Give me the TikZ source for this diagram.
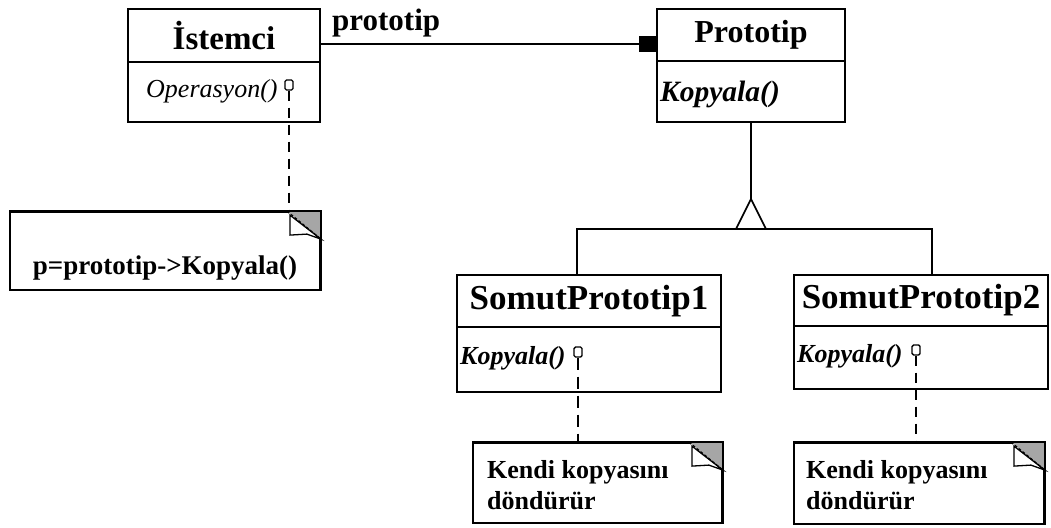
\documentclass[tikz,border=0pt]{standalone}
\usepackage{fontspec}
\setmainfont{Liberation Serif}
\usetikzlibrary{arrows.meta}
\newcommand\clsfont{\fontsize{33}{38}\selectfont\bfseries}
\newcommand\opfont{\fontsize{26}{30}\selectfont}
\newcommand\notefont{\fontsize{26}{31}\selectfont\bfseries}
\begin{document}
\begin{tikzpicture}[x=1pt,y=-1pt,
  part/.style={draw,line width=2pt,inner sep=0pt,minimum width=#1},
  notebox/.style={draw,line width=1.8pt,inner sep=0pt,minimum width=#1},
  optext/.style={anchor=west,inner sep=0pt},
  notetext/.style={anchor=west,align=left,inner sep=0pt,font=\notefont},
  lolli/.style={draw,line width=1.4pt,rounded corners=1.5pt,minimum width=8pt,minimum height=10pt,inner sep=0pt},
  link/.style={line width=2pt},
  notelink/.style={line width=2pt,dash pattern=on 10pt off 7pt},
  thinlink/.style={line width=1.2pt,dash pattern=on 12pt off 7pt}]
\useasboundingbox (0,0) rectangle (1051,527);

% client class
\node[part=192pt,minimum height=53pt] (ist) at (224,35.5) {\clsfont İstemci};
\node[part=192pt,minimum height=60pt] (istops) at (224,92) {};
\node[optext] (istop) at (146,91) {\opfont\itshape Operasyon()};

% prototype class
\node[part=188pt,minimum height=52pt] (pro) at (751,35) {\fontsize{32}{38}\selectfont\bfseries Prototip};
\node[part=188pt,minimum height=61pt] (proops) at (751,91.5) {};
\node[optext] (proop) at (660,94) {\fontsize{29.5}{34}\selectfont\bfseries\itshape Kopyala()};

% concrete prototypes
\node[part=264pt,minimum height=52pt] (s1) at (589,301) {\fontsize{35}{40}\selectfont\bfseries SomutPrototip1};
\node[part=264pt,minimum height=65pt] (s1ops) at (589,359.5) {};
\node[optext] (s1op) at (460,358) {\fontsize{26}{30}\selectfont\bfseries\itshape Kopyala()};

\node[part=254pt,minimum height=51pt] (s2) at (921,300.5) {\fontsize{35}{40}\selectfont\bfseries SomutPrototip2};
\node[part=254pt,minimum height=63pt] (s2ops) at (921,357.5) {};
\node[optext] (s2op) at (797,356) {\fontsize{26}{30}\selectfont\bfseries\itshape Kopyala()};

% notes
\node[notebox=310pt,minimum height=78pt] (note0) at (165,251) {};
\node[inner sep=0pt] (note0t) at (165,268) {\fontsize{27}{32}\selectfont\bfseries p=prototip->Kopyala()};
\node[notebox=249pt,minimum height=80pt] (note1) at (597.5,483) {};
\node[notetext] (note1t) at (487,485) {Kendi kopyasını\\döndürür};
\node[notebox=250pt,minimum height=81pt] (note2) at (919,483.5) {};
\node[notetext] (note2t) at (806,485) {Kendi kopyasını\\döndürür};

% folded corners of the notes
\foreach \n in {note0,note1,note2}{
  \fill[gray!70] (\n.north east) ++(-34,0) -- (\n.north east) -- ++(0,28) -- cycle;
  \draw[line width=1.3pt,fill=white] (\n.north east) ++(-31,4) -- ++(0,20) -- ++(17,-1) -- ++(14,5) -- cycle;
  \draw[line width=1.3pt,densely dashed] (\n.north east) ++(-34,0) -- ++(34,28);
  \draw[line width=1.8pt] (\n.north west) -- (\n.north east) -- (\n.south east);
}

% lollipops on the operations
\node[lolli] (l0) at (289,85) {};
\node[lolli] (l1) at (578,352) {};
\node[lolli] (l2) at (916,350) {};

\draw[notelink] (l0.south) -- (note0.north -| l0);
\draw[thinlink] (l1.south) -- (note1.north -| l1);
\draw[notelink] (l2.south) -- (note2.north -| l2);

% association
\coordinate (row) at (0,44);
\draw[link,-{Square[length=17pt,width=16pt]}] (ist.east |- row) -- (pro.west |- row);
\node[anchor=south west,inner sep=0pt] (role) at (332,37) {\fontsize{31}{36}\selectfont\bfseries prototip};

% generalization
\coordinate (apex) at (proops.south |- 0,199);
\coordinate (j1) at (577,229);
\coordinate (j2) at (932,229);
\draw[link] (proops.south) -- (apex);
\draw[link] (s1.north -| j1) -- (j1) -- (j2) -- (s2.north -| j2);
\draw[line width=1.6pt,fill=white] (apex) -- ([xshift=15pt]apex |- j1) -- ([xshift=-15pt]apex |- j1) -- cycle;
\end{tikzpicture}
\end{document}
